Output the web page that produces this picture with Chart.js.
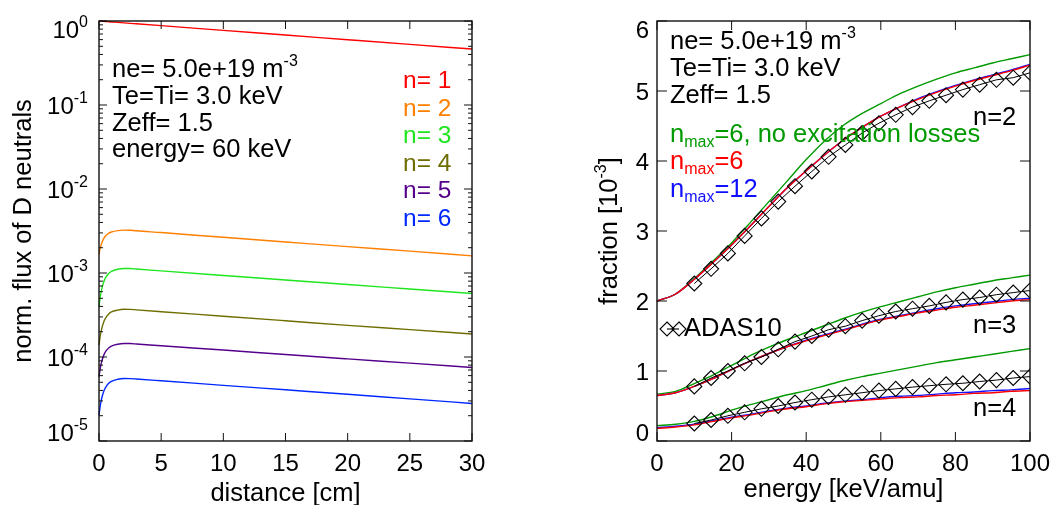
<!DOCTYPE html>
<html><head><meta charset="utf-8">
<script src="https://cdn.jsdelivr.net/npm/chart.js@4.4.0/dist/chart.umd.min.js"></script>
<style>
html,body{margin:0;padding:0;background:#fff;}
#wrap{position:relative;width:1054px;height:505px;overflow:hidden;}
.box{position:absolute;top:0;width:527px;height:505px;}
</style></head><body>
<div id="wrap">
<div class="box" style="left:0"><canvas id="c1"></canvas></div>
<div class="box" style="left:527px"><canvas id="c2"></canvas></div>
</div>
<script>
// ---------- left panel data ----------
const distance = [0,0.1,0.2,0.4,0.6,0.8,1,1.5,2,2.5,3,5,10,15,20,25,30];
const flux_n1 = [1.0,0.9974,0.9949,0.9898,0.9848,0.9797,0.9747,0.9624,0.9502,0.9381,0.9262,0.880,0.774,0.681,0.599,0.527,0.464];
const flux_n2 = [1.68e-3,1.98e-3,2.23e-3,2.60e-3,2.83e-3,2.99e-3,3.08e-3,3.20e-3,3.24e-3,3.23e-3,3.18e-3,3.03e-3,2.66e-3,2.34e-3,2.06e-3,1.82e-3,1.60e-3];
const flux_n3 = [3.98e-4,5.18e-4,6.25e-4,7.96e-4,9.12e-4,9.93e-4,1.045e-3,1.109e-3,1.132e-3,1.130e-3,1.115e-3,1.06e-3,9.35e-4,8.25e-4,7.30e-4,6.45e-4,5.70e-4];
const flux_n4 = [1.39e-4,1.78e-4,2.12e-4,2.66e-4,3.02e-4,3.27e-4,3.44e-4,3.62e-4,3.70e-4,3.69e-4,3.64e-4,3.46e-4,3.06e-4,2.70e-4,2.38e-4,2.12e-4,1.88e-4];
const flux_n5 = [5.82e-5,7.31e-5,8.63e-5,1.067e-4,1.20e-4,1.29e-4,1.35e-4,1.42e-4,1.449e-4,1.445e-4,1.429e-4,1.36e-4,1.21e-4,1.07e-4,9.5e-5,8.45e-5,7.5e-5];
const flux_n6 = [2.04e-5,2.62e-5,3.14e-5,3.96e-5,4.51e-5,4.89e-5,5.14e-5,5.43e-5,5.55e-5,5.53e-5,5.47e-5,5.21e-5,4.60e-5,4.07e-5,3.60e-5,3.17e-5,2.80e-5];
const leftXTicks = [0,5,10,15,20,25,30];
const leftYDecades = [-5,-4,-3,-2,-1,0];
const leftLabels = ['n= 1','n= 2','n= 3','n= 4','n= 5','n= 6'];
const leftColors = ['#ff0000','#ff7f00','#1ee61e','#6e6e00','#55008c','#0028ff'];

// ---------- right panel data ----------
const energy = [0,5,10,15,20,25,30,35,40,45,50,55,60,65,70,75,80,85,90,95,100];
const n2_green = [2.00,2.10,2.32,2.57,2.83,3.12,3.42,3.72,4.02,4.29,4.51,4.68,4.82,4.96,5.07,5.17,5.26,5.33,5.40,5.46,5.52];
const n2_red   = [2.00,2.10,2.31,2.55,2.80,3.07,3.35,3.62,3.86,4.09,4.30,4.48,4.64,4.77,4.88,4.98,5.07,5.15,5.22,5.29,5.37];
const n2_blue  = [2.00,2.10,2.31,2.55,2.80,3.07,3.35,3.62,3.86,4.09,4.30,4.48,4.64,4.77,4.89,4.99,5.08,5.16,5.23,5.30,5.38];
const n3_green = [0.67,0.71,0.82,0.94,1.08,1.22,1.34,1.45,1.55,1.65,1.75,1.84,1.92,1.99,2.06,2.13,2.19,2.24,2.29,2.33,2.37];
const n3_red   = [0.65,0.69,0.78,0.89,1.02,1.14,1.25,1.35,1.43,1.51,1.58,1.66,1.73,1.78,1.83,1.87,1.91,1.94,1.97,2.00,2.02];
const n3_blue  = [0.65,0.69,0.78,0.89,1.02,1.14,1.25,1.35,1.44,1.52,1.59,1.67,1.74,1.79,1.84,1.89,1.93,1.96,1.99,2.02,2.04];
const n4_green = [0.22,0.24,0.28,0.35,0.44,0.52,0.59,0.66,0.72,0.79,0.86,0.92,0.97,1.02,1.07,1.12,1.16,1.20,1.24,1.28,1.32];
const n4_red   = [0.18,0.20,0.23,0.28,0.33,0.37,0.42,0.46,0.49,0.53,0.56,0.58,0.60,0.62,0.63,0.65,0.66,0.68,0.69,0.71,0.72];
const n4_blue  = [0.19,0.21,0.24,0.29,0.34,0.38,0.43,0.47,0.50,0.54,0.57,0.59,0.62,0.64,0.65,0.67,0.69,0.70,0.72,0.73,0.75];
const adasEnergy = [10,14.5,19,23.5,28,32.5,37,41.5,46,50.5,55,59.5,64,68.5,73,77.5,82,86.5,91,95.5,100];
const adas_n2 = [2.25,2.46,2.68,2.93,3.18,3.42,3.64,3.85,4.06,4.23,4.40,4.54,4.66,4.77,4.86,4.94,5.02,5.09,5.16,5.19,5.26];
const adas_n3 = [0.78,0.90,1.00,1.11,1.20,1.31,1.42,1.50,1.59,1.64,1.72,1.79,1.85,1.89,1.93,1.98,2.02,2.05,2.09,2.12,2.15];
const adas_n4 = [0.25,0.30,0.36,0.41,0.46,0.50,0.55,0.59,0.63,0.66,0.69,0.72,0.745,0.77,0.79,0.81,0.825,0.85,0.87,0.90,0.92];
const rightXTicks = [0,20,40,60,80,100];
const rightYTicks = [0,1,2,3,4,5,6];
const cGreen = '#009a00', cRed = '#ff0000', cBlue = '#1010ff';

// ---------- helpers ----------
const FONT = '"Liberation Sans", Arial, Helvetica, sans-serif';
const TICK = 24, TXT = 25.5;
function pts(xs, ys){ return xs.map((x,i)=>({x:x, y:ys[i]})); }
function setFont(ctx, s){ ctx.font = s + 'px ' + FONT; }
function richWidth(ctx, parts){ let w=0; for(const p of parts){ setFont(ctx,p[1]); w+=ctx.measureText(p[0]).width; } return w; }
function rich(ctx, x, y, parts, color){
  let cx = x; ctx.fillStyle = color; ctx.textAlign='left'; ctx.textBaseline='alphabetic';
  for(const p of parts){ setFont(ctx,p[1]); ctx.fillText(p[0], cx, y+(p[2]||0)); cx += ctx.measureText(p[0]).width; }
}
function seg(ctx,x1,y1,x2,y2){ ctx.beginPath(); ctx.moveTo(x1,y1); ctx.lineTo(x2,y2); ctx.stroke(); }
function frame(ctx,a){
  ctx.strokeStyle='#111'; ctx.lineWidth=1.4;
  ctx.strokeRect(a.left,a.top,a.right-a.left,a.bottom-a.top);
}
function diamond(ctx,x,y,r){
  ctx.beginPath(); ctx.moveTo(x,y-r); ctx.lineTo(x+r,y); ctx.lineTo(x,y+r); ctx.lineTo(x-r,y); ctx.closePath(); ctx.stroke();
}
function yLabelPos(val, py, a, capH){
  let base = py + capH/2;
  if (base > a.bottom) base = a.bottom;
  if (base - capH < a.top) base = a.top + capH;
  return base;
}

// ---------- left chart ----------
const leftPlugin = {
  id:'leftDeco',
  afterDraw(chart){
    const {ctx, chartArea:a, scales:{x,y}} = chart;
    ctx.save();
    frame(ctx,a);
    ctx.lineWidth=1; ctx.strokeStyle='#111';
    for(const v of leftXTicks){ const px=x.getPixelForValue(v); seg(ctx,px,a.bottom,px,a.bottom-8); seg(ctx,px,a.top,px,a.top+8); }
    for(const d of leftYDecades){
      const py=y.getPixelForValue(Math.pow(10,d));
      seg(ctx,a.left,py,a.left+8,py); seg(ctx,a.right,py,a.right-8,py);
      if(d<0){ for(let m=2;m<=9;m++){ const pm=y.getPixelForValue(m*Math.pow(10,d)); seg(ctx,a.left,pm,a.left+4,pm); seg(ctx,a.right,pm,a.right-4,pm);} }
    }
    const capH = 0.716*TICK;
    for(const v of leftXTicks){ const px=x.getPixelForValue(v); setFont(ctx,TICK); ctx.fillStyle='#000'; ctx.textAlign='center'; ctx.fillText(String(v),px,a.bottom+30); }
    for(const d of leftYDecades){
      const py=y.getPixelForValue(Math.pow(10,d));
      const parts=[['10',TICK,0],[String(d),16,-11]];
      const w=richWidth(ctx,parts);
      rich(ctx,a.left-11-w,yLabelPos(d,py,a,capH),parts,'#000');
    }
    setFont(ctx,TXT); ctx.fillStyle='#000'; ctx.textAlign='center';
    ctx.fillText('distance [cm]',(a.left+a.right)/2,a.bottom+60);
    ctx.save(); ctx.translate(a.left-68,(a.top+a.bottom)/2); ctx.rotate(-Math.PI/2);
    ctx.fillText('norm. flux of D neutrals',0,0); ctx.restore();
    const tx=a.left+13;
    rich(ctx,tx,a.top+56,[['ne= 5.0e+19 m',TXT],['-3',16,-11]],'#000');
    rich(ctx,tx,a.top+83,[['Te=Ti= 3.0 keV',TXT]],'#000');
    rich(ctx,tx,a.top+110,[['Zeff= 1.5',TXT]],'#000');
    rich(ctx,tx,a.top+136,[['energy= 60 keV',TXT]],'#000');
    leftLabels.forEach((t,i)=>rich(ctx,a.left+304,a.top+67+i*27.6,[[t,24.5]],leftColors[i]));
    ctx.restore();
  }
};
const fluxSeries=[flux_n1,flux_n2,flux_n3,flux_n4,flux_n5,flux_n6];
new Chart(document.getElementById('c1'),{
  type:'line',
  data:{datasets: fluxSeries.map((s,i)=>({label:leftLabels[i],data:pts(distance,s),borderColor:leftColors[i],borderWidth:1.4,pointRadius:0,fill:false,cubicInterpolationMode:'monotone',clip:1}))},
  options:{
    responsive:true, maintainAspectRatio:false, animation:false, devicePixelRatio:1,
    layout:{padding:{top:21,right:55,left:0,bottom:0},autoPadding:false},
    plugins:{legend:{display:false},tooltip:{enabled:false}},
    events:[],
    scales:{
      x:{type:'linear',min:0,max:30,ticks:{display:false},grid:{display:false},border:{display:false},afterFit:s=>{s.height=64;}},
      y:{type:'logarithmic',min:1e-5,max:1,ticks:{display:false},grid:{display:false},border:{display:false},afterFit:s=>{s.width=99;}}
    }
  },
  plugins:[leftPlugin]
});

// ---------- right chart ----------
const rightPlugin = {
  id:'rightDeco',
  afterDraw(chart){
    const {ctx, chartArea:a, scales:{x,y}} = chart;
    ctx.save();
    frame(ctx,a);
    ctx.lineWidth=1; ctx.strokeStyle='#111';
    for(const v of rightXTicks){ const px=x.getPixelForValue(v); seg(ctx,px,a.bottom,px,a.bottom-9); seg(ctx,px,a.top,px,a.top+9); }
    for(const v of rightYTicks){ const py=y.getPixelForValue(v); seg(ctx,a.left,py,a.left+10,py); seg(ctx,a.right,py,a.right-10,py); }
    const capH=0.716*TICK;
    setFont(ctx,TICK); ctx.fillStyle='#000';
    for(const v of rightXTicks){ const px=x.getPixelForValue(v); ctx.textAlign='center'; ctx.fillText(String(v),px,a.bottom+30); }
    for(const v of rightYTicks){ const py=y.getPixelForValue(v); ctx.textAlign='right'; ctx.fillText(String(v),a.left-8,yLabelPos(v,py,a,capH)); }
    setFont(ctx,TXT); ctx.textAlign='center';
    ctx.fillText('energy [keV/amu]',(a.left+a.right)/2,a.bottom+56);
    ctx.save(); ctx.translate(a.left-40,(a.top+a.bottom)/2); ctx.rotate(-Math.PI/2);
    const tparts=[['fraction [10',TXT],['-3',16,-11],[']',TXT]];
    const tw=richWidth(ctx,tparts); rich(ctx,-tw/2,0,tparts,'#000'); ctx.restore();
    const tx=a.left+13;
    rich(ctx,tx,a.top+28,[['ne= 5.0e+19 m',TXT],['-3',16,-11]],'#000');
    rich(ctx,tx,a.top+55,[['Te=Ti= 3.0 keV',TXT]],'#000');
    rich(ctx,tx,a.top+82,[['Zeff= 1.5',TXT]],'#000');
    rich(ctx,tx,a.top+121,[['n',TXT],['max',16,5],['=6, no excitation losses',TXT]],cGreen);
    rich(ctx,tx,a.top+148,[['n',TXT],['max',16,5],['=6',TXT]],cRed);
    rich(ctx,tx,a.top+176,[['n',TXT],['max',16,5],['=12',TXT]],cBlue);
    rich(ctx,a.left+316,a.top+104,[['n=2',TXT]],'#000');
    rich(ctx,a.left+316,a.top+312,[['n=3',TXT]],'#000');
    rich(ctx,a.left+316,a.top+395,[['n=4',TXT]],'#000');
    ctx.strokeStyle='#000'; ctx.lineWidth=1.1;
    const ly=a.top+308;
    seg(ctx,a.left+10,ly,a.left+22,ly);
    diamond(ctx,a.left+10,ly,7); diamond(ctx,a.left+22,ly,7);
    rich(ctx,a.left+27,a.top+315,[['ADAS10',TXT]],'#000');
    ctx.restore();
  }
};
function curve(data,color,order){ return {data:pts(energy,data),borderColor:color,borderWidth:1.4,pointRadius:0,fill:false,cubicInterpolationMode:'monotone',order:order,clip:1}; }
function adas(data){ return {data:pts(adasEnergy,data),borderColor:'#000',borderWidth:1,pointStyle:'rectRot',pointRadius:7.5,pointBorderColor:'#000',pointBackgroundColor:'rgba(0,0,0,0)',pointBorderWidth:1.1,fill:false,order:0,clip:0}; }
new Chart(document.getElementById('c2'),{
  type:'line',
  data:{datasets:[
    adas(adas_n2),adas(adas_n3),adas(adas_n4),
    curve(n2_red,cRed,1),curve(n3_red,cRed,1),curve(n4_red,cRed,1),
    curve(n2_blue,cBlue,2),curve(n3_blue,cBlue,2),curve(n4_blue,cBlue,2),
    curve(n2_green,cGreen,3),curve(n3_green,cGreen,3),curve(n4_green,cGreen,3)
  ]},
  options:{
    responsive:true, maintainAspectRatio:false, animation:false, devicePixelRatio:1,
    layout:{padding:{top:21,right:24,left:0,bottom:0},autoPadding:false},
    plugins:{legend:{display:false},tooltip:{enabled:false}},
    events:[],
    scales:{
      x:{type:'linear',min:0,max:100,ticks:{display:false},grid:{display:false},border:{display:false},afterFit:s=>{s.height=64;}},
      y:{type:'linear',min:0,max:6,ticks:{display:false},grid:{display:false},border:{display:false},afterFit:s=>{s.width=130;}}
    }
  },
  plugins:[rightPlugin]
});
</script>
</body></html>
